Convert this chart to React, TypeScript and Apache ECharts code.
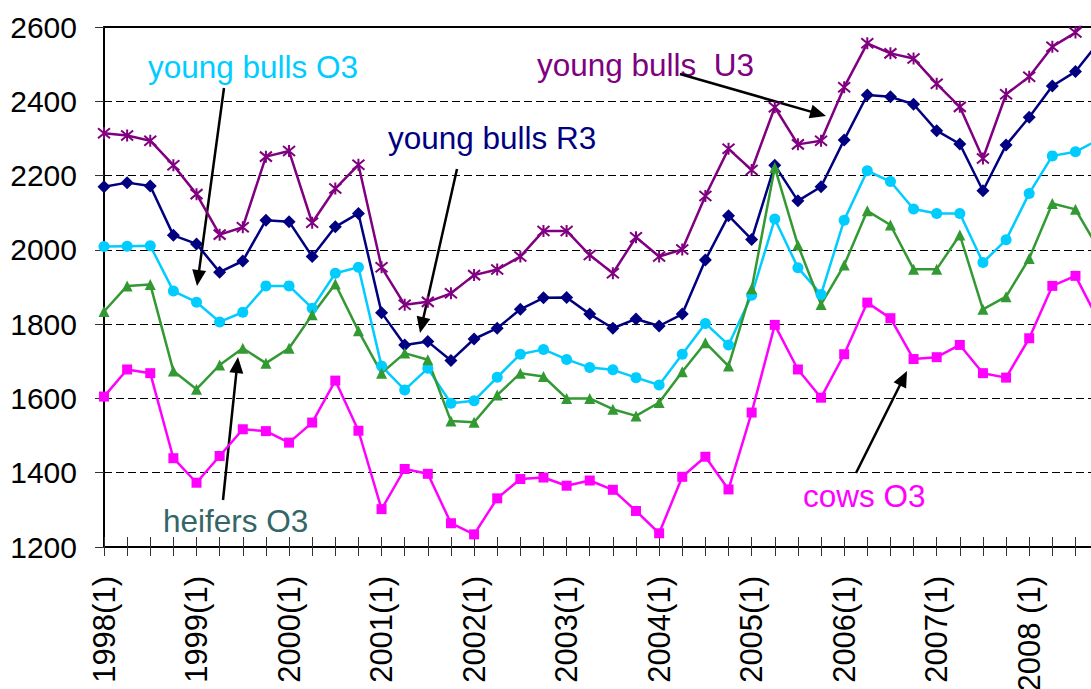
import React, { useEffect, useRef } from "react";
import * as echarts from "echarts";

const years = [1998, 1999, 2000, 2001, 2002, 2003, 2004, 2005, 2006, 2007, 2008];
const categories: string[] = [];
years.forEach((y) => {
  for (let q = 1; q <= 4; q++) categories.push(y === 2008 ? `${y} (${q})` : `${y}(${q})`);
});

const youngBullsU3 = [2314, 2308, 2294, 2228, 2150, 2041, 2061, 2251, 2266, 2073, 2165, 2229,
  1953, 1852, 1860, 1883, 1932, 1947, 1982, 2051, 2051, 1986, 1937, 2034, 1982, 2001, 2145, 2272,
  2215, 2384, 2284, 2294, 2438, 2556, 2529, 2515, 2447, 2385, 2246, 2419, 2466, 2547, 2585, 2670];
const youngBullsR3 = [2170, 2181, 2172, 2039, 2016, 1940, 1970, 2080, 2076, 1982, 2062, 2098,
  1831, 1744, 1753, 1702, 1760, 1789, 1840, 1871, 1872, 1827, 1789, 1814, 1795, 1827, 1973, 2092,
  2028, 2228, 2132, 2170, 2296, 2417, 2412, 2392, 2321, 2285, 2159, 2282, 2357, 2441, 2480, 2558];
const youngBullsO3 = [2009, 2010, 2011, 1889, 1859, 1806, 1832, 1903, 1903, 1843, 1937, 1953,
  1687, 1623, 1681, 1587, 1594, 1657, 1719, 1732, 1705, 1683, 1677, 1656, 1636, 1719, 1802, 1744,
  1878, 2083, 1952, 1880, 2080, 2213, 2184, 2110, 2098, 2098, 1966, 2027, 2152, 2253, 2264, 2297];
const heifersO3 = [1834, 1903, 1907, 1674, 1625, 1690, 1735, 1695, 1735, 1825, 1908, 1782,
  1668, 1722, 1704, 1539, 1536, 1609, 1668, 1659, 1600, 1600, 1571, 1553, 1589, 1672, 1750, 1687,
  1895, 2222, 2013, 1853, 1959, 2105, 2067, 1948, 1948, 2040, 1840, 1874, 1977, 2125, 2109, 2002];
const cowsO3 = [1605, 1678, 1668, 1439, 1373, 1445, 1517, 1512, 1481, 1535, 1648, 1513,
  1302, 1410, 1397, 1264, 1234, 1331, 1383, 1387, 1365, 1379, 1354, 1297, 1237, 1389, 1443, 1355,
  1562, 1798, 1678, 1602, 1719, 1858, 1816, 1706, 1711, 1744, 1668, 1656, 1762, 1903, 1930, 1809];

const FONT = "'Liberation Sans', Arial, sans-serif";

function arrow(x1: number, y1: number, x2: number, y2: number) {
  const dx = x2 - x1, dy = y2 - y1;
  const len = Math.sqrt(dx * dx + dy * dy);
  const ux = dx / len, uy = dy / len;
  const hl = 16, hw = 7;
  const bx = x2 - ux * hl, by = y2 - uy * hl;
  return [
    { type: "line", shape: { x1, y1, x2: bx + ux * 2, y2: by + uy * 2 }, style: { stroke: "#000", lineWidth: 2.5 } },
    {
      type: "polygon",
      shape: { points: [[x2, y2], [bx - uy * hw, by + ux * hw], [bx + uy * hw, by - ux * hw]] },
      style: { fill: "#000" },
    },
  ];
}

function label(text: string, x: number, y: number, color: string) {
  return {
    type: "text",
    x,
    y,
    style: { text, fill: color, fontSize: 31.5, fontFamily: FONT, align: "left", verticalAlign: "middle" },
  };
}

export default function App() {
  const ref = useRef<HTMLDivElement>(null);
  useEffect(() => {
    if (!ref.current) return;
    const chart = echarts.init(ref.current, null, { renderer: "svg" });
    const mk = (name: string, data: number[], color: string, symbol: string, size: number, extra: any = {}) => ({
      name,
      type: "line",
      data,
      symbol,
      symbolSize: size,
      lineStyle: { color, width: 2.5 },
      itemStyle: { color, borderWidth: 0, ...extra },
      xAxisIndex: 0,
      yAxisIndex: 0,
    });
    chart.setOption({
      animation: false,
      grid: { left: 104, top: 27, width: 994.6, bottom: 142, containLabel: false, outerBoundsMode: "none" },
      xAxis: [
        {
          type: "category",
          data: categories,
          boundaryGap: false,
          position: "bottom",
          axisLine: { lineStyle: { color: "#000", width: 2 } },
          axisTick: { show: true, interval: 0, length: 9, lineStyle: { color: "#333", width: 1 } },
          axisLabel: { interval: 3, rotate: 90, margin: 29, color: "#000", fontSize: 31, fontFamily: FONT },
          splitLine: { show: false },
        },
        {
          type: "category",
          data: categories,
          boundaryGap: false,
          position: "bottom",
          axisLine: { show: false },
          axisTick: { show: true, inside: true, interval: 0, length: 10, lineStyle: { color: "#333", width: 1 } },
          axisLabel: { show: false },
          splitLine: { show: false },
        },
        {
          type: "category",
          data: categories,
          boundaryGap: false,
          position: "top",
          axisLine: { lineStyle: { color: "#000", width: 2 } },
          axisTick: { show: false },
          axisLabel: { show: false },
          splitLine: { show: false },
        },
      ],
      yAxis: {
        type: "value",
        min: 1200,
        max: 2600,
        interval: 200,
        axisLine: { show: true, lineStyle: { color: "#000", width: 2 } },
        axisTick: { show: true, length: 9, lineStyle: { color: "#333", width: 1 } },
        axisLabel: { color: "#000", fontSize: 30, fontFamily: FONT, margin: 27, formatter: (v: number) => String(v) },
        splitLine: { lineStyle: { color: "#000", width: 1, type: [8, 4] } },
      },
      series: [
        mk("young bulls U3", youngBullsU3, "#800080", "path://M0,0L10,10M10,0L0,10M5,-1L5,11", 12, {
          borderColor: "#800080",
          borderWidth: 2,
        }),
        mk("young bulls R3", youngBullsR3, "#000080", "diamond", 13),
        mk("young bulls O3", youngBullsO3, "#00CCFF", "circle", 11),
        mk("heifers O3", heifersO3, "#339933", "triangle", 11),
        mk("cows O3", cowsO3, "#FF00FF", "rect", 10),
      ],
      graphic: [
        label("young bulls O3", 148, 67, "#00CCFF"),
        label("young bulls  U3", 537, 65, "#800080"),
        label("young bulls R3", 388, 138, "#000080"),
        label("heifers O3", 163, 521, "#336666"),
        label("cows O3", 803, 496, "#FF00FF"),
        ...arrow(224, 88, 197, 286),
        ...arrow(457, 169, 420, 333),
        ...arrow(680, 74, 826, 116),
        ...arrow(223, 500, 238, 357),
        ...arrow(856, 473, 907, 371),
      ],
    });
    return () => chart.dispose();
  }, []);
  return (
    <div style={{ position: "fixed", left: 0, top: 0, width: 1091, height: 689, overflow: "hidden", background: "#fff" }}>
      <div ref={ref} style={{ width: 1120, height: 689 }} />
    </div>
  );
}
